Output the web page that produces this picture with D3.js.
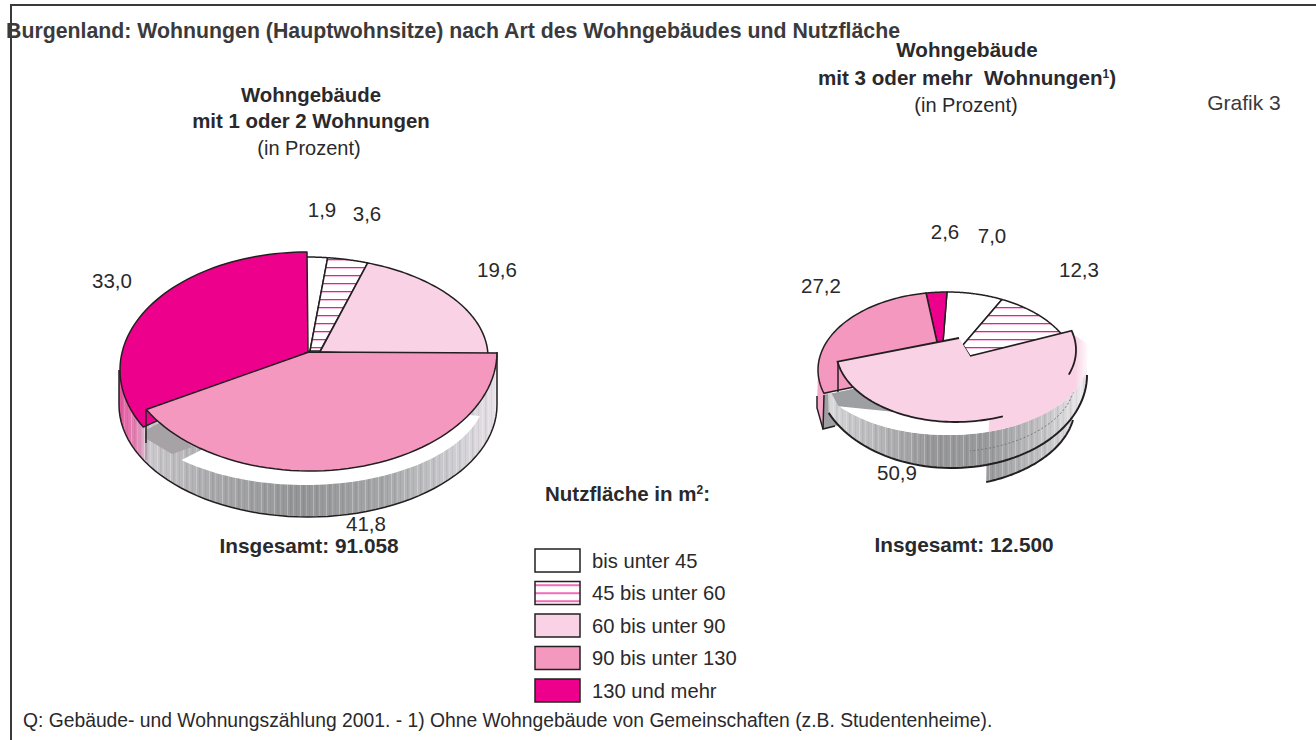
<!DOCTYPE html>
<html>
<head>
<meta charset="utf-8">
<script src="https://cdn.jsdelivr.net/npm/d3@7"></script>
<style>
    html, body { margin: 0; padding: 0; background: #fff; }
    svg { display: block; }
    text { font-family: "Liberation Sans", Arial, sans-serif; fill: #2a292b; }
    .bold { font-weight: bold; }
</style>
</head>
<body>
<div id="chart"></div>
<script>
const categories = ["bis unter 45", "45 bis unter 60", "60 bis unter 90", "90 bis unter 130", "130 und mehr"];
const valuesOneTwo = [1.9, 3.6, 19.6, 41.8, 33.0];
const valuesThreePlus = [7.0, 12.3, 50.9, 27.2, 2.6];
const totalOneTwo = "91.058";
const totalThreePlus = "12.500";

const width = 1316;
const height = 740;
const colors = ["#ffffff", "url(#hatch)", "#f9d3e5", "#f498bf", "#ec008c"];
const ink = "#231f20";

const svg = d3.select("#chart").append("svg")
    .attr("width", width)
    .attr("height", height);
const defs = svg.append("defs");

// Hatching of the second class
const hatch = defs.append("pattern")
    .attr("id", "hatch")
    .attr("patternUnits", "userSpaceOnUse")
    .attr("width", 8)
    .attr("height", 8);
hatch.append("rect").attr("width", 8).attr("height", 8).attr("fill", "#fff");
hatch.append("rect").attr("y", 3).attr("width", 8).attr("height", 1.3).attr("fill", "#ee1a96");

// Thin vertical streaks on the pie walls
const streaks = defs.append("pattern")
    .attr("id", "streaks")
    .attr("patternUnits", "userSpaceOnUse")
    .attr("width", 13)
    .attr("height", 10);
[[1, "#fff", 0.28, 1], [4, "#000", 0.07, 1.5], [7, "#fff", 0.16, 1], [10, "#000", 0.05, 1]].forEach(s => {
    streaks.append("rect")
        .attr("x", s[0]).attr("width", s[3]).attr("height", 10)
        .attr("fill", s[1]).attr("opacity", s[2]);
});

function wallGradient(id, x1, x2, stops) {
    const g = defs.append("linearGradient")
        .attr("id", id)
        .attr("gradientUnits", "userSpaceOnUse")
        .attr("x1", x1).attr("x2", x2).attr("y1", 0).attr("y2", 0);
    stops.forEach(s => g.append("stop").attr("offset", s[0]).attr("stop-color", s[1]));
}
wallGradient("wallLeft", 120, 497, [
    [0, "#e85aa2"], [0.05, "#e38cba"], [0.068, "#d8bfd0"], [0.08, "#cbc9cd"], [0.25, "#a9a9ac"],
    [0.48, "#949597"], [0.7, "#a6a7a9"], [0.88, "#cdcdd1"], [1, "#e8e2e8"]
]);
wallGradient("wallRight", 826, 1088, [
    [0, "#dcdcdf"], [0.12, "#c4c4c7"], [0.4, "#979799"], [0.62, "#9a9b9d"], [0.85, "#c8c8cb"], [1, "#f2eef2"]
]);
wallGradient("lightFade", 1040, 1089, [[0, "#f9d3e5"], [0.72, "#f9d3e5"], [1, "#ffffff"]]);

const line = d3.line();
const toRad = Math.PI / 180;

// Points on an ellipse, angle in degrees clockwise from the top
function ellipsePoints(e, a0, a1) {
    return d3.range(0, 61).map(i => {
        const a = (a0 + (a1 - a0) * i / 60) * toRad;
        return [e.cx + e.rx * Math.sin(a), e.cy - e.ry * Math.cos(a)];
    });
}

const pie = d3.pie().sort(null).value(d => d);

function slicePath(arc, e, foot0, foot1, startShift, endShift) {
    const a0 = arc.startAngle / toRad + (startShift || 0);
    const a1 = arc.endAngle / toRad + (endShift || 0);
    return line([foot0, ...ellipsePoints(e, a0, a1), ...foot1]) + "Z";
}

function drawShape(points, fill, stroke, strokeWidth) {
    return svg.append("path")
        .attr("d", line(points) + "Z")
        .attr("fill", fill)
        .attr("stroke", stroke || "none")
        .attr("stroke-width", strokeWidth || 1.5);
}

function drawLine(points, w, color, dash) {
    return svg.append("path")
        .attr("d", line(points))
        .attr("fill", "none")
        .attr("stroke", color || ink)
        .attr("stroke-width", w || 1.5)
        .attr("stroke-dasharray", dash || null);
}

function drawSlice(i, d, e, foot0, foot1) {
    svg.append("path")
        .attr("d", slicePath(d, e, foot0, foot1))
        .attr("fill", colors[i])
        .attr("stroke", ink)
        .attr("stroke-width", 1.5)
        .attr("stroke-linejoin", "round");
}

// Left pie: 1 or 2 dwellings
function drawLeftPie() {
    const arcs = pie(valuesOneTwo);
    const small = { cx: 306, cy: 357, rx: 182, ry: 100 };
    const pink = { cx: 310, cy: 352, rx: 187, ry: 119 };
    const red = { cx: 307, cy: 370, rx: 187, ry: 118 };
    const wall = { cx: 308, cy: 405, rx: 189, ry: 112 };
    const gap = { cx: 305, cy: 392, rx: 181, ry: 93 };

    const wallPts = ellipsePoints(wall, 90, 270);
    drawShape([[497, 352], ...wallPts, [119, 370]], "url(#wallLeft)");
    drawShape([[497, 352], ...wallPts, [119, 370]], "url(#streaks)");
    drawLine([[497, 352], ...wallPts, [119, 370]]);

    // white gap under the pulled-out slice, and its cut face
    drawShape([...ellipsePoints(gap, 105, 223), [300, 400]], "#fff");
    drawShape([[146, 430], [165, 420], [192, 447], [172, 454], [145, 438]], "#a6a2a6");
    drawLine([[146, 460], [146, 431]], 0.8, "#77757a");

    drawSlice(0, arcs[0], small, [306, 352], [[310, 351]]);
    drawSlice(1, arcs[1], small, [310, 351], [[320, 351]]);
    drawSlice(2, arcs[2], small, [320, 352], [[320, 352]]);
    drawSlice(4, arcs[4], red, [308, 352], [[308, 352]]);
    drawSlice(3, arcs[3], pink, [309, 352], [[309, 352]]);
    drawLine([[146, 410], [146, 443]]);
}

// Right pie: 3 or more dwellings
function drawRightPie() {
    const arcs = pie(valuesThreePlus);
    const top = { cx: 947, cy: 370, rx: 129, ry: 78 };
    const light = { cx: 956, cy: 350, rx: 120, ry: 72 };
    const wall = { cx: 952, cy: 375, rx: 135, ry: 93 };
    const rear = { cx: 940, cy: 406, rx: 135, ry: 81 };
    const gap = { cx: 948, cy: 360, rx: 139, ry: 75 };

    // rear wall, sticking out at the lower right
    const rearPts = ellipsePoints(rear, 100, 160);
    drawShape([...rearPts, [987, 440], [1070, 400]], "url(#wallRight)");
    drawShape([...rearPts, [987, 440], [1070, 400]], "url(#streaks)");
    drawLine(rearPts, 2);

    // pink wash and dark edge at the far left
    drawShape([[818, 370], [817, 407], [824, 429], [830, 395]], "#f6a8cb");
    drawShape([[824, 395], [857, 388], [895, 412], [868, 420], [835, 426], [823, 429]], "#9e9fa2");
    drawLine([[824, 395], [823, 429], [835, 426]]);
    drawLine([[817, 396], [817, 408], [823, 429]]);

    // front wall
    const wallPts = ellipsePoints(wall, 90, 246);
    const gapPts = ellipsePoints(gap, 232, 90);
    drawShape([...wallPts, [828, 387], ...gapPts], "url(#wallRight)");
    drawShape([...wallPts, [828, 387], ...gapPts], "url(#streaks)");
    drawLine(wallPts, 2);
    drawLine(ellipsePoints({ cx: 948, cy: 380, rx: 127, ry: 72 }, 90, 170), 1, "#77777a", "2 2");

    // white gap and the light pink that runs past the outline
    drawShape([[895, 412], ...ellipsePoints(gap, 232, 163), [1000, 400], [900, 395]], "#fff");
    drawShape([...ellipsePoints(gap, 163, 90), [1089, 345], [1076, 336], [1040, 340], [990, 400]], "url(#lightFade)");

    drawSlice(0, arcs[0], top, [943, 342], [[963, 345]]);
    drawSlice(1, arcs[1], top, [963, 345], [[970, 356]]);
    drawSlice(4, arcs[4], top, [937, 342], [[943, 342]]);
    drawSlice(3, arcs[3], top, [960, 365], [[937, 342]]);

    // the pulled-out slice only has a partial outline
    const a0 = arcs[2].startAngle / toRad + 5;
    const a1 = arcs[2].endAngle / toRad + 8;
    svg.append("path")
        .attr("d", slicePath(arcs[2], light, [970, 356], [[959, 338]], 5, 8))
        .attr("fill", colors[2]);
    drawLine([[959, 338], ...ellipsePoints(light, a1, 157)], 1.8);
    drawLine([[970, 356], ...ellipsePoints(light, a0, 110)], 1.8);
    drawLine([[838, 362], [838, 392]]);
}

drawLeftPie();
drawRightPie();

// Frame
svg.append("path")
    .attr("d", "M11,740V5H1316")
    .attr("fill", "none")
    .attr("stroke", "#3a3a3c")
    .attr("stroke-width", 2);

// Value labels
const commaFormat = d3.format(".1f");
const labelOneTwo = [[322, 217], [367, 221], [497, 277], [366, 531], [112, 288]];
const labelThreePlus = [[992, 243], [1079, 277], [897, 480], [821, 293], [945, 239]];
function drawValues(values, places) {
    svg.append("g").selectAll("text")
        .data(values)
        .join("text")
        .attr("x", (d, i) => places[i][0])
        .attr("y", (d, i) => places[i][1])
        .attr("text-anchor", "middle")
        .attr("font-size", 20.5)
        .text(d => commaFormat(d).replace(".", ","));
}
drawValues(valuesOneTwo, labelOneTwo);
drawValues(valuesThreePlus, labelThreePlus);

// Titles
function addText(x, y, str, size, bold, anchor) {
    return svg.append("text")
        .attr("x", x).attr("y", y)
        .attr("font-size", size)
        .attr("class", bold ? "bold" : null)
        .attr("text-anchor", anchor || "middle")
        .text(str);
}
function addSup(sel, str, rest) {
    sel.append("tspan").attr("dy", -7).attr("font-size", 12).text(str);
    if (rest) sel.append("tspan").attr("dy", 7).text(rest);
}

addText(6, 38, "Burgenland: Wohnungen (Hauptwohnsitze) nach Art des Wohngebäudes und Nutzfläche", 21.3, true, "start")
    .style("fill", "#3a3a3c");
addText(311, 102, "Wohngebäude", 20.4, true);
addText(311, 128, "mit 1 oder 2 Wohnungen", 20.4, true);
addText(309, 155, "(in Prozent)", 20, false);
addText(967, 57, "Wohngebäude", 20.6, true);
const sub = addText(967, 85, "mit 3 oder mehr  Wohnungen", 20.6, true).style("white-space", "pre");
addSup(sub, "1", ")");
addText(966, 112, "(in Prozent)", 20, false);
addText(1244, 110, "Grafik 3", 21, false).style("fill", "#3a3a3c");
addText(309, 553, "Insgesamt: " + totalOneTwo, 20.8, true);
addText(964, 552, "Insgesamt: " + totalThreePlus, 20.8, true);

// Legend
const legendTitle = addText(545, 501, "Nutzfläche in m", 20.5, true, "start");
addSup(legendTitle, "2", ":");

const legendY = d3.scaleBand()
    .domain(categories)
    .range([549, 702])
    .paddingInner(0.292)
    .paddingOuter(0);
const legend = svg.append("g").selectAll("g")
    .data(categories)
    .join("g")
    .attr("transform", d => `translate(0,${legendY(d)})`);
legend.append("rect")
    .attr("x", 535)
    .attr("width", 45)
    .attr("height", legendY.bandwidth())
    .attr("fill", (d, i) => colors[i])
    .attr("stroke", ink)
    .attr("stroke-width", 1.5);
legend.append("text")
    .attr("x", 592)
    .attr("y", 19)
    .attr("font-size", 20.2)
    .text(d => d);

addText(23, 727, "Q: Gebäude- und Wohnungszählung 2001. - 1) Ohne Wohngebäude von Gemeinschaften (z.B. Studentenheime).", 19.3, false, "start");
</script>
</body>
</html>
